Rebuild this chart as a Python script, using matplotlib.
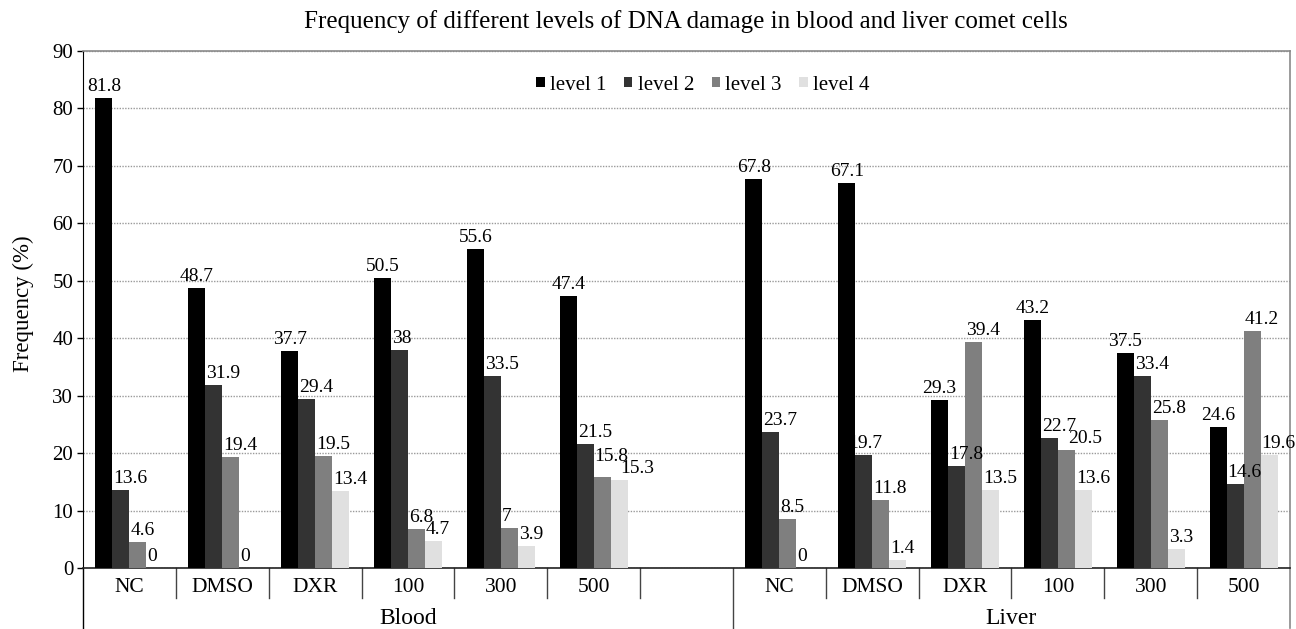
import matplotlib
matplotlib.use("Agg")
import matplotlib.pyplot as plt
import matplotlib.transforms as mtransforms
from matplotlib.patches import Patch
import numpy as np

plt.rcParams['font.family'] = ['Liberation Serif', 'DejaVu Serif']

categories = ["NC", "DMSO", "DXR", "100", "300", "500"]
groups = ["Blood", "Liver"]
series_names = ["level 1", "level 2", "level 3", "level 4"]

blood_l1 = [81.8, 48.7, 37.7, 50.5, 55.6, 47.4]
blood_l2 = [13.6, 31.9, 29.4, 38, 33.5, 21.5]
blood_l3 = [4.6, 19.4, 19.5, 6.8, 7, 15.8]
blood_l4 = [0, 0, 13.4, 4.7, 3.9, 15.3]

liver_l1 = [67.8, 67.1, 29.3, 43.2, 37.5, 24.6]
liver_l2 = [23.7, 19.7, 17.8, 22.7, 33.4, 14.6]
liver_l3 = [8.5, 11.8, 39.4, 20.5, 25.8, 41.2]
liver_l4 = [0, 1.4, 13.5, 13.6, 3.3, 19.6]

colors = ["#000000", "#333333", "#7f7f7f", "#e0e0e0"]

blood = [blood_l1, blood_l2, blood_l3, blood_l4]
liver = [liver_l1, liver_l2, liver_l3, liver_l4]

# label nudges in pixels (group, category index, level index) -> (dx, dy)
nudges = {(0, 5, 2): (0, 9), (0, 5, 3): (9, 0), (1, 3, 2): (9, 0), (1, 1, 1): (-8, 0)}

fig = plt.figure(figsize=(12.96, 6.29), dpi=100)
ax = fig.add_axes([83/1296, 61/629, 1207/1296, 517/629])

blood_x = np.arange(6)
liver_x = np.arange(6) + 7
bw = 0.183

for i in range(4):
    off = (i - 1.5) * bw
    for g, (xs, data) in enumerate(((blood_x, blood), (liver_x, liver))):
        vals = data[i]
        ax.bar(xs + off, vals, width=bw, color=colors[i], zorder=3)
        for k, (x, v) in enumerate(zip(xs, vals)):
            dx, dy = nudges.get((g, k, i), (0, 0))
            if i == 0:
                tr = mtransforms.offset_copy(ax.transData, fig=fig, x=dx, y=7 + dy, units='dots')
                ax.text(x + off, v, f"{v:g}", transform=tr, ha='center', va='baseline',
                        fontsize=14, zorder=5)
            else:
                tr = mtransforms.offset_copy(ax.transData, fig=fig, x=1 + dx, y=7 + dy, units='dots')
                ax.text(x + off - bw / 2, v, f"{v:g}", transform=tr, ha='left', va='baseline',
                        fontsize=14, zorder=5)

ax.set_xlim(-0.5, 12.5)
ax.set_ylim(0, 90)
ax.set_yticks(np.arange(0, 91, 10))
ax.tick_params(axis='y', direction='out', length=4, width=1, labelsize=15, pad=3)
ax.set_xticks([])
ax.yaxis.grid(True, color='#9a9a9a', linestyle=(0, (1, 1)), linewidth=1, zorder=0)
ax.set_axisbelow(True)

for s in ['top', 'right']:
    ax.spines[s].set_color('#8a8a8a')
    ax.spines[s].set_linewidth(1.2)
ax.spines['left'].set_color('#000000')
ax.spines['bottom'].set_color('#222222')
ax.spines['bottom'].set_linewidth(1.2)

trans = mtransforms.blended_transform_factory(ax.transData, ax.transAxes)
short = 30 / 517
long_ = 60 / 517
for b in np.arange(0.5, 12.5, 1.0):
    if b == 6.5:
        continue
    ax.plot([b, b], [0, -short], transform=trans, color='#444444', lw=1, clip_on=False)
ax.plot([6.5, 6.5], [0, -long_], transform=trans, color='#444444', lw=1, clip_on=False)
ax.plot([-0.5, -0.5], [0, -long_], transform=trans, color='#000000', lw=1, clip_on=False)
ax.plot([12.5, 12.5], [0, -long_], transform=trans, color='#8a8a8a', lw=1.2, clip_on=False)

for xs in (blood_x, liver_x):
    for x, c in zip(xs, categories):
        ax.text(x, -19 / 517, c, transform=trans, ha='center', va='center', fontsize=15.5)
ax.text(3.0, -50 / 517, groups[0], transform=trans, ha='center', va='center', fontsize=17)
ax.text(9.5, -50 / 517, groups[1], transform=trans, ha='center', va='center', fontsize=17)

fig.text(23 / 1296, 1 - 304 / 629, "Frequency (%)", rotation=90, ha='center', va='center',
         fontsize=16.5)
fig.text(686 / 1296, 1 - 22 / 629,
         "Frequency of different levels of DNA damage in blood and liver comet cells",
         ha='center', va='center', fontsize=18)

handles = [Patch(facecolor=c, edgecolor='none') for c in colors]
fig.legend(handles, series_names, loc='center', bbox_to_anchor=(703 / 1296, 1 - 85 / 629),
           ncol=4, frameon=False, fontsize=15, handlelength=0.4, handleheight=0.4,
           handletextpad=0.25, columnspacing=0.85, borderpad=0, borderaxespad=0)

fig.savefig("out.png", dpi=100)
